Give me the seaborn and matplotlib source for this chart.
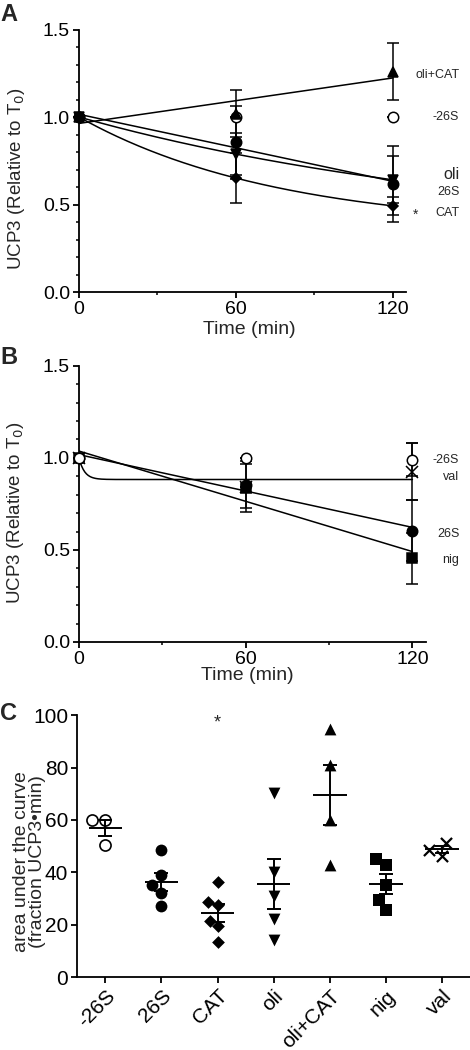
import numpy as np
import pandas as pd
import matplotlib
matplotlib.use('Agg')
import matplotlib.pyplot as plt
import matplotlib.transforms as mtransforms
from matplotlib.ticker import MultipleLocator
import seaborn as sns

# time points (min)
times = [0, 60, 120]

# panel A: UCP3 relative to T0 (mean, SEM)
a_m26s = [1.0, 1.0, 1.0]
a_m26s_err = [0, 0, 0]
a_26s = [1.0, 0.855, 0.617]
a_26s_err = [0, 0.21, 0.215]
a_cat = [1.0, 0.651, 0.492]
a_cat_err = [0, 0.143, 0.05]
a_oli = [1.0, 0.788, 0.641]
a_oli_err = [0, 0.12, 0.135]
a_olicat = [1.0, 1.02, 1.26]
a_olicat_err = [0, 0.137, 0.165]

# panel B
b_m26s = [1.0, 1.0, 0.99]
b_m26s_err = [0, 0, 0.09]
b_val = [1.0, 0.84, 0.925]
b_val_err = [0, 0, 0.155]
b_26s = [1.0, 0.855, 0.605]
b_26s_err = [0, 0.13, 0.165]
b_nig = [1.0, 0.838, 0.454]
b_nig_err = [0, 0.13, 0.14]

# panel C: area under the curve, individual experiments
auc_groups = ['-26S', '26S', 'CAT', 'oli', 'oli+CAT', 'nig', 'val']
auc_m26s = [60.1, 60.1, 50.6]
auc_26s = [48.4, 38.9, 35.1, 32.3, 27.2]
auc_cat = [36.5, 28.7, 27.7, 21.5, 19.6, 13.3]
auc_oli = [70.3, 40.1, 31.0, 22.2, 14.3]
auc_olicat = [94.6, 80.9, 60.1, 42.7]
auc_nig = [45.3, 42.7, 35.2, 29.4, 25.6]
auc_val = [51.3, 48.7, 46.4]


def linear_fit(t, y):
    slope, icpt = np.polyfit(t, y, 1)
    tt = np.linspace(0, 120, 200)
    return tt, icpt + slope * tt


def one_phase_fit(t, y):
    # one-phase decay through three equally spaced points
    y0, y1, y2 = y
    plateau = (y1 ** 2 - y0 * y2) / (2 * y1 - y0 - y2)
    q = (y1 - plateau) / (y0 - plateau)
    k = -np.log(q) / (t[1] - t[0])
    tt = np.linspace(0, 120, 200)
    return tt, plateau + (y0 - plateau) * np.exp(-k * tt)


def fast_decay_fit(t, y, k=0.5):
    plateau = np.mean(y[1:])
    tt = np.linspace(0, 120, 400)
    return tt, plateau + (y[0] - plateau) * np.exp(-k * tt)


sns.set_theme(style='ticks')
plt.rcParams['font.family'] = ['Liberation Sans', 'DejaVu Sans']
plt.rcParams['axes.linewidth'] = 1.3
plt.rcParams['xtick.major.width'] = 1.3
plt.rcParams['ytick.major.width'] = 1.3
plt.rcParams['xtick.minor.width'] = 1.1
plt.rcParams['ytick.minor.width'] = 1.1
plt.rcParams['xtick.major.size'] = 4.5
plt.rcParams['ytick.major.size'] = 4.5
plt.rcParams['xtick.minor.size'] = 2.5
plt.rcParams['ytick.minor.size'] = 2.5
plt.rcParams['axes.edgecolor'] = 'black'
plt.rcParams['xtick.color'] = 'black'
plt.rcParams['ytick.color'] = 'black'

fig = plt.figure(figsize=(4.7, 10.5), dpi=100)
axa = fig.add_axes([0.168, 0.7219, 0.696, 0.25])
axb = fig.add_axes([0.168, 0.3886, 0.739, 0.263])
axc = fig.add_axes([0.1645, 0.0692, 0.8355, 0.2498])


def draw_series(ax, y, err, marker, ms, mfc='black'):
    ax.errorbar(times, y, yerr=err, fmt=marker, color='black', mfc=mfc, mec='black',
                ms=ms, mew=1.1, elinewidth=1.1, capsize=4, capthick=1.1,
                ecolor='black', zorder=3, clip_on=False)


def style_time_axis(ax):
    ax.set_xlim(0, 125)
    ax.set_ylim(0, 1.5)
    ax.set_xticks([0, 60, 120])
    ax.xaxis.set_minor_locator(MultipleLocator(30))
    ax.set_yticks([0.0, 0.5, 1.0, 1.5])
    ax.set_yticklabels(['0.0', '0.5', '1.0', '1.5'])
    ax.yaxis.set_minor_locator(MultipleLocator(0.1))
    ax.tick_params(labelsize=14, pad=2)
    ax.set_xlabel('Time (min)', fontsize=14)
    ax.set_ylabel('UCP3 (Relative to T$_0$)', fontsize=13.5)
    sns.despine(ax=ax)


# ---- panel A ----
for fit, ydata in [(linear_fit, a_26s), (one_phase_fit, a_oli),
                   (one_phase_fit, a_cat), (linear_fit, a_olicat)]:
    tt, yy = fit(times, ydata)
    sns.lineplot(x=tt, y=yy, color='black', linewidth=1.1, ax=axa)

draw_series(axa, a_m26s, a_m26s_err, 'o', 7.5, mfc='white')
draw_series(axa, a_olicat, a_olicat_err, '^', 7)
draw_series(axa, a_26s, a_26s_err, 'o', 7.5)
draw_series(axa, a_oli, a_oli_err, 'v', 7)
draw_series(axa, a_cat, a_cat_err, 'D', 5.5)
style_time_axis(axa)
axa.xaxis.set_label_coords(0.52, -0.11)
axa.yaxis.set_label_coords(-0.16, 0.433)

tra = mtransforms.blended_transform_factory(fig.transFigure, axa.transData)
labels_a = {'oli+CAT': 1.242, '-26S': 1.0, '26S': 0.572, 'CAT': 0.452}
for name, yv in labels_a.items():
    fig.text(0.977, yv, name, transform=tra, ha='right', va='center', fontsize=9)
fig.text(0.977, 0.67, 'oli', transform=tra, ha='right', va='center', fontsize=11.5)
fig.text(0.884, 0.44, '*', transform=tra, ha='center', va='center', fontsize=10)

# ---- panel B ----
tt, yy = fast_decay_fit(times, b_val)
sns.lineplot(x=tt, y=yy, color='black', linewidth=1.1, ax=axb)
for ydata in [b_26s, b_nig]:
    tt, yy = linear_fit(times, ydata)
    sns.lineplot(x=tt, y=yy, color='black', linewidth=1.1, ax=axb)

draw_series(axb, b_26s, b_26s_err, 'o', 7.5)
draw_series(axb, b_nig, b_nig_err, 's', 7)
draw_series(axb, b_val, b_val_err, 'x', 8)
draw_series(axb, b_m26s, b_m26s_err, 'o', 7.5, mfc='white')
style_time_axis(axb)
axb.xaxis.set_label_coords(0.485, -0.09)
axb.yaxis.set_label_coords(-0.152, 0.467)

trb = mtransforms.blended_transform_factory(fig.transFigure, axb.transData)
labels_b = {'-26S': 0.988, 'val': 0.896, '26S': 0.586, 'nig': 0.445}
for name, yv in labels_b.items():
    fig.text(0.977, yv, name, transform=trb, ha='right', va='center', fontsize=9)

# ---- panel C ----
auc_values = [auc_m26s, auc_26s, auc_cat, auc_oli, auc_olicat, auc_nig, auc_val]
auc_df = pd.DataFrame({
    'group': np.repeat(auc_groups, [len(v) for v in auc_values]),
    'auc': np.concatenate(auc_values),
})
markers = ['o', 'o', 'D', 'v', '^', 's', 'X']
for grp, mk in zip(auc_groups, markers):
    sub = auc_df[auc_df['group'] == grp]
    if grp == '-26S':
        sns.swarmplot(data=sub, x='group', y='auc', order=auc_groups, marker='o',
                      color='white', edgecolor='black', linewidth=1.2, size=8, ax=axc)
    elif grp == 'val':
        sns.swarmplot(data=sub, x='group', y='auc', order=auc_groups, marker='x',
                      color='black', linewidth=1.6, size=8, ax=axc)
    elif grp == 'CAT':
        sns.swarmplot(data=sub, x='group', y='auc', order=auc_groups, marker=mk,
                      color='black', size=6.5, ax=axc)
    else:
        sns.swarmplot(data=sub, x='group', y='auc', order=auc_groups, marker=mk,
                      color='black', size=8.5, ax=axc)

stats = auc_df.groupby('group', sort=False)['auc'].agg(['mean', 'sem'])
for i, grp in enumerate(auc_groups):
    m = stats.loc[grp, 'mean']
    s = stats.loc[grp, 'sem']
    axc.hlines(m, i - 0.3, i + 0.3, color='black', linewidth=1.4, zorder=4)
    axc.errorbar(i, m, yerr=s, fmt='none', ecolor='black', elinewidth=1.4,
                 capsize=5, capthick=1.4, zorder=4)

axc.text(2, 97, '*', ha='center', va='center', fontsize=13)
axc.set_xlim(-0.5, 6.5)
axc.set_ylim(0, 100)
axc.set_yticks([0, 20, 40, 60, 80, 100])
axc.tick_params(labelsize=15, pad=2)
plt.setp(axc.get_xticklabels(), rotation=45, ha='right', rotation_mode='anchor')
axc.set_xlabel('')
axc.set_ylabel('area under the curve\n(fraction UCP3\u2022min)', fontsize=14, linespacing=0.95)
axc.yaxis.set_label_coords(-0.08, 0.44)
sns.despine(ax=axc)

# panel letters
fig.text(0.0, 1 - 3 / 1050, 'A', fontsize=17, fontweight='bold', va='top')
fig.text(0.0, 1 - 346 / 1050, 'B', fontsize=17, fontweight='bold', va='top')
fig.text(0.0, 1 - 702 / 1050, 'C', fontsize=17, fontweight='bold', va='top')

fig.savefig('out.png', dpi=100)
